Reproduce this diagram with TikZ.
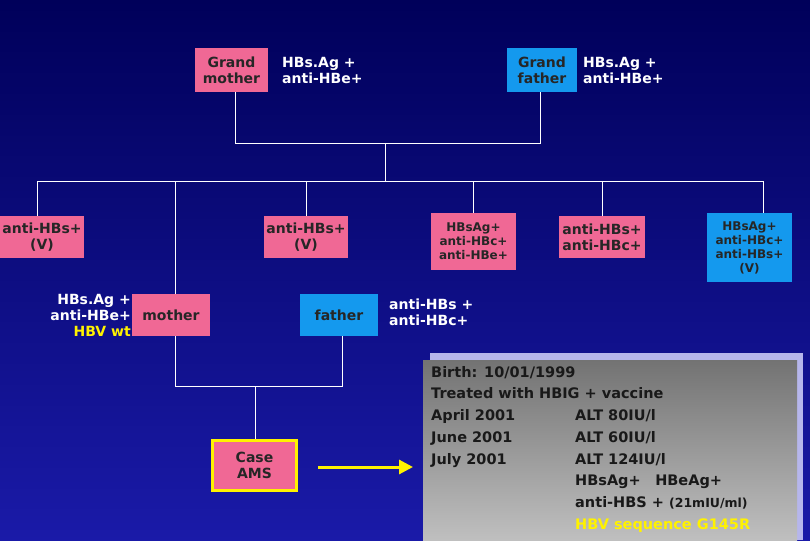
\documentclass[tikz,border=0pt]{standalone}
\usepackage{fontspec}
\setmainfont{DejaVu Sans}
\usetikzlibrary{arrows.meta}
\begin{document}
\begin{tikzpicture}[x=1pt,y=-1pt,
 box/.style={draw=none,inner sep=0pt,font=\bfseries\fontsize{14}{16}\selectfont,text=black!85,align=center},
 pk/.style={box,fill=pinkc},
 bl/.style={box,fill=bluec},
 lab/.style={font=\bfseries\fontsize{14}{16}\selectfont,text=white,inner sep=0pt},
 ln/.style={draw=white,line width=0.8pt}]
\definecolor{pinkc}{HTML}{F06895}
\definecolor{bluec}{HTML}{1499EE}
\definecolor{bgtop}{HTML}{00005A}
\definecolor{bgbot}{HTML}{1A1AA8}
\shade[top color=bgtop,bottom color=bgbot] (0,0) rectangle (810,540);
\useasboundingbox (0,0) rectangle (810,540);
% boxes
\node[pk,minimum width=73pt,minimum height=44pt] (gm) at (231.5,70) {Grand\\mother};
\node[bl,minimum width=70pt,minimum height=44pt] (gf) at (542,70) {Grand\\father};
\node[lab,align=left,anchor=west] (gml) at (282,70) {HBs.Ag +\\anti-HBe+};
\node[lab,align=left,anchor=west] (gfl) at (583,70) {HBs.Ag +\\anti-HBe+};
\node[pk,minimum width=84pt,minimum height=42pt] (c1) at (42,237) {anti-HBs+\\(V)};
\node[pk,minimum width=84pt,minimum height=42pt] (c2) at (306,237) {anti-HBs+\\(V)};
\node[pk,minimum width=85pt,minimum height=57pt,font=\bfseries\fontsize{12}{14}\selectfont] (c3) at (473.5,241.5) {HBsAg+\\anti-HBc+\\anti-HBe+};
\node[pk,minimum width=86pt,minimum height=42pt] (c4) at (602,237) {anti-HBs+\\anti-HBc+};
\node[bl,minimum width=85pt,minimum height=69pt,font=\bfseries\fontsize{12}{14}\selectfont] (c5) at (749.5,247.5) {HBsAg+\\anti-HBc+\\anti-HBs+\\(V)};
\node[pk,minimum width=78pt,minimum height=42pt] (mo) at (171,315) {mother};
\node[bl,minimum width=78pt,minimum height=42pt] (fa) at (339,315) {father};
\node[lab,align=right,anchor=north east] (mol) at (131,294) {HBs.Ag +\\anti-HBe+\\\textcolor{yellow}{HBV wt}};
\node[lab,align=left,anchor=west] (fal) at (389,312) {anti-HBs +\\anti-HBc+};
\node[pk,draw=yellow,line width=3pt,minimum width=84pt,minimum height=50pt] (ca) at (254.5,465.5) {Case\\AMS};
% tree
\coordinate (j1) at (235,143); \coordinate (j2) at (540,143);
\coordinate (j3) at (385,143); \coordinate (j4) at (385,181);
\coordinate (h1) at (37,181); \coordinate (h2) at (763,181);
\draw[ln] (gm.south -| j1) -- (j1) -- (j2) -- (gf.south -| j2);
\draw[ln] (j3) -- (j4);
\draw[ln] (h1) -- (h2);
\draw[ln] (h1) -- (c1.north -| h1);
\draw[ln] (c2.north |- h1) -- (c2.north);
\draw[ln] (c3.north |- h1) -- (c3.north);
\draw[ln] (c4.north |- h1) -- (c4.north);
\draw[ln] (h2) -- (c5.north -| h2);
\coordinate (m1) at (175,181); \coordinate (m2) at (175,386); \coordinate (f2) at (342,386);
\draw[ln] (m1) -- (mo.north -| m1);
\draw[ln] (mo.south -| m1) -- (m2) -- (f2) -- (fa.south -| f2);
\coordinate (cc) at (255,386);
\draw[ln] (cc) -- (ca.north -| cc);
% info box
\fill[blue!25!white!85!gray] (430,353) rectangle (803,540);
\shade[top color=black!55,bottom color=black!25] (423,360) rectangle (797,540);
\node[font=\bfseries\fontsize{14.5}{21.7}\selectfont,text=black!90,anchor=north west,align=left,inner sep=0pt] (info) at (431,366)
{Birth: 10/01/1999\\Treated with HBIG + vaccine\\April 2001\\June 2001\\July 2001};
\node[font=\bfseries\fontsize{14.5}{21.7}\selectfont,text=black!90,anchor=north west,align=left,inner sep=0pt] (info2) at (575,409.4)
{ALT 80IU/l\\ALT 60IU/l\\ALT 124IU/l\\HBsAg+\quad HBeAg+\\anti-HBS + {\fontsize{12.5}{14}\selectfont(21mIU/ml)}\\\textcolor{yellow}{HBV sequence G145R}};
% arrow
\coordinate (a0) at (318,467); \coordinate (a1) at (413,467);
\draw[yellow,line width=3pt,-{Triangle[length=14pt,width=14pt]}] (a0) -- (a1);
\end{tikzpicture}
\end{document}
